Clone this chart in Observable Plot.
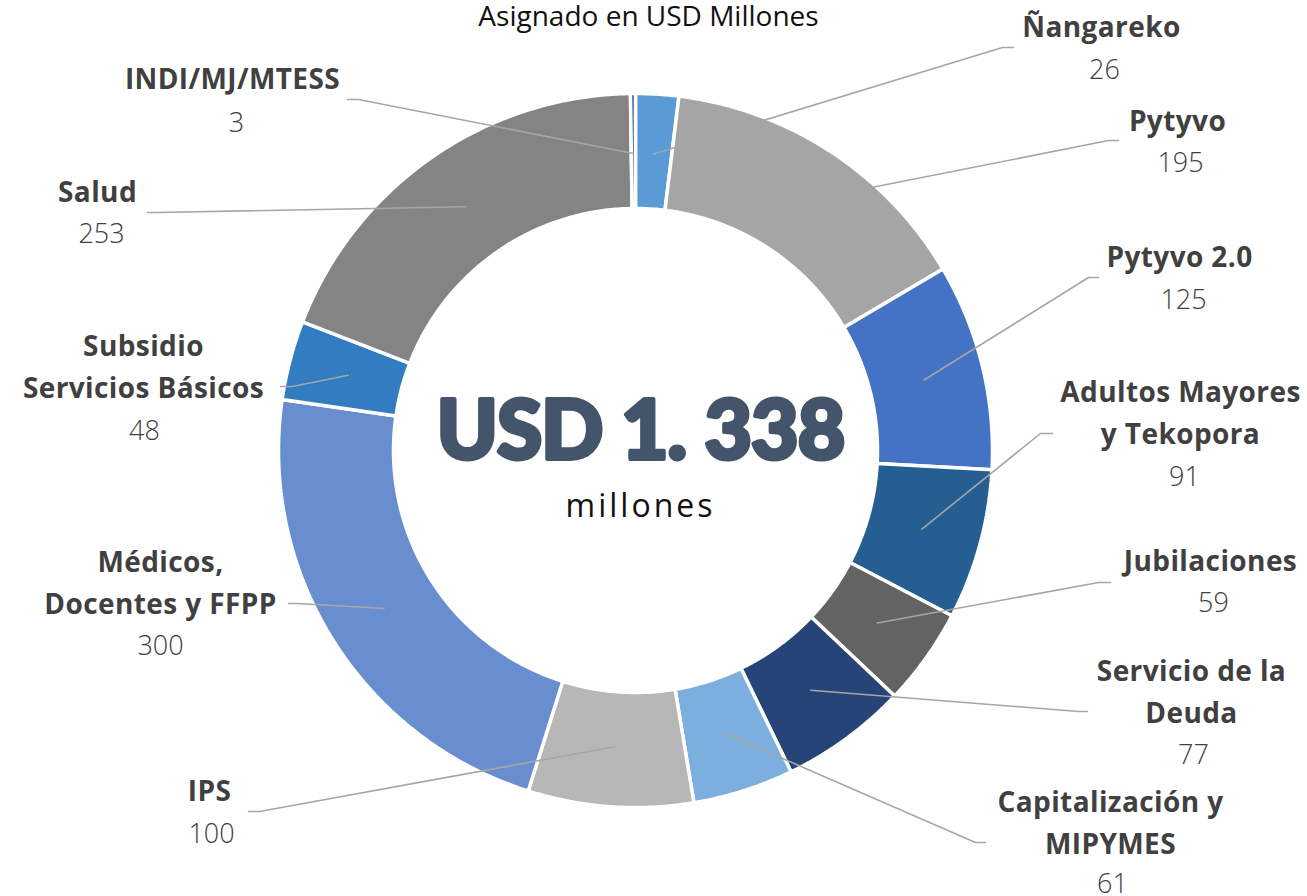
<!DOCTYPE html>
<html>
<head>
<meta charset="utf-8">
<script src="https://cdn.jsdelivr.net/npm/d3@7"></script>
<script src="https://cdn.jsdelivr.net/npm/@observablehq/plot@0.6"></script>
<style>
  body { margin: 0; background: #ffffff; }
  #chart svg { display: block; }
</style>
</head>
<body>
<div id="chart"></div>
<script>
// ---------------- DATA ----------------
const categories = [
  "Ñangareko", "Pytyvo", "Pytyvo 2.0", "Adultos Mayores\ny Tekopora", "Jubilaciones",
  "Servicio de la\nDeuda", "Capitalización y\nMIPYMES", "IPS", "Médicos,\nDocentes y FFPP",
  "Subsidio\nServicios Básicos", "Salud", "INDI/MJ/MTESS"
];
const values = [26, 195, 125, 91, 59, 77, 61, 100, 300, 48, 253, 3];
const sliceColors = [
  "#5B9BD5", "#A5A5A5", "#4472C4", "#255E91", "#636363", "#264478",
  "#7CAFDD", "#B7B7B7", "#698ED0", "#327DC2", "#848484", "#2F5597"
];
const titleText = "Asignado en USD Millones";
const totalText = "USD 1. 338";
const totalUnitText = "millones";

// ---------------- LAYOUT (page pixels) ----------------
const W = 1307, H = 896;
const CX = 635, CY = 450, R_OUT = 357, R_IN = 242, R_LEADER = 297;
const LINE_GAP = 42;
// label block: x = text centre, y = first name line centre, vx/vy = value centre,
// ex/ey = leader elbow, hx = leader end next to text
const labelLayout = [
  { x: 1101, y: 28,  vx: 1104, vy: 70,  ex: 1002, ey: 47,  hx: 1013 },
  { x: 1177, y: 122, vx: 1180, vy: 163, ex: 1108, ey: 140, hx: 1118 },
  { x: 1179, y: 258, vx: 1183, vy: 300, ex: 1088, ey: 277, hx: 1098 },
  { x: 1180, y: 393, vx: 1184, vy: 477, ex: 1040, ey: 433, hx: 1052 },
  { x: 1210, y: 562, vx: 1213, vy: 603, ex: 1098, ey: 582, hx: 1110 },
  { x: 1191, y: 672, vx: 1193, vy: 755, ex: 1078, ey: 711, hx: 1087 },
  { x: 1110, y: 803, vx: 1112, vy: 884, ex: 975,  ey: 842, hx: 985 },
  { x: 209,  y: 792, vx: 211,  vy: 834, ex: 259,  ey: 811, hx: 248 },
  { x: 160,  y: 563, vx: 160,  vy: 646, ex: 297,  ey: 603, hx: 288 },
  { x: 143,  y: 347, vx: 144,  vy: 431, ex: 292,  ey: 386, hx: 280 },
  { x: 97,   y: 193, vx: 101,  vy: 234, ex: 157,  ey: 212, hx: 147 },
  { x: 232,  y: 80,  vx: 236,  vy: 123, ex: 358,  ey: 99,  hx: 347 }
];

// ---------------- DERIVED GEOMETRY ----------------
const arcs = d3.pie().sort(null).value(d => d)(values);
const polar = (r, a) => ({ x: CX + r * Math.sin(a), y: CY - r * Math.cos(a) });

const slicePts = [];
arcs.forEach((arc, i) => {
  const name = categories[i];
  const n = Math.max(4, Math.ceil((arc.endAngle - arc.startAngle) / 0.01));
  const ring = [];
  for (let k = 0; k <= n; k++) ring.push(polar(R_OUT, arc.startAngle + (arc.endAngle - arc.startAngle) * k / n));
  for (let k = n; k >= 0; k--) ring.push(polar(R_IN, arc.startAngle + (arc.endAngle - arc.startAngle) * k / n));
  ring.push(ring[0]);
  ring.forEach(p => slicePts.push({ ...p, name }));
});

const leaderPts = [];
arcs.forEach((arc, i) => {
  const name = categories[i];
  const L = labelLayout[i];
  const mid = (arc.startAngle + arc.endAngle) / 2;
  leaderPts.push({ ...polar(R_LEADER, mid), name });
  leaderPts.push({ x: L.ex, y: L.ey, name });
  leaderPts.push({ x: L.hx, y: L.ey, name });
});

const nameLines = [];
categories.forEach((c, i) => {
  c.split("\n").forEach((t, j) => nameLines.push({ x: labelLayout[i].x, y: labelLayout[i].y + j * LINE_GAP, text: t }));
});
const valueLabels = values.map((v, i) => ({ x: labelLayout[i].vx, y: labelLayout[i].vy, text: String(v) }));

// ---------------- PLOT ----------------
const chart = Plot.plot({
  width: W,
  height: H,
  margin: 0,
  x: { domain: [0, W], range: [0, W], axis: null },
  y: { domain: [0, H], range: [0, H], axis: null },
  color: { domain: categories, range: sliceColors },
  style: { background: "#ffffff" },
  marks: [
    Plot.line(slicePts, { x: "x", y: "y", z: "name", fill: "name", stroke: "#ffffff", strokeWidth: 3.5, strokeLinejoin: "miter" }),
    Plot.line(leaderPts, { x: "x", y: "y", z: "name", stroke: "#A6A6A6", strokeWidth: 1.6 }),
    Plot.text(nameLines, { x: "x", y: "y", text: "text", fontFamily: "Open Sans", fontWeight: 700, fontSize: 28, fill: "#404040" }),
    Plot.text(valueLabels, { x: "x", y: "y", text: "text", fontFamily: "Open Sans", fontWeight: 300, fontSize: 27, fill: "#404040" }),
    Plot.text([titleText], { x: () => 648, y: () => 17, text: d => d, fontFamily: "Open Sans", fontWeight: 400, fontSize: 28, fill: "#111111" }),
    Plot.text([totalText], { x: () => 640, y: () => 432, text: d => d, fontFamily: "Lato", fontWeight: 900, fontSize: 82, fill: "#44546A", stroke: "#44546A", strokeWidth: 4 }),
    Plot.text([totalUnitText], { x: () => 640, y: () => 506, text: d => d, fontFamily: "Open Sans", fontWeight: 400, fontSize: 32, fill: "#111111" })
  ]
});

d3.select(chart).selectAll("text")
  .filter(function () { return this.textContent === totalText; })
  .attr("letter-spacing", "-1px");
d3.select(chart).selectAll("text")
  .filter(function () { return this.textContent === totalUnitText; })
  .attr("letter-spacing", "3px");
d3.select(chart).selectAll("text")
  .filter(function () { return categories.some(c => c.split("\n").includes(this.textContent)); })
  .attr("letter-spacing", "0.4px");

document.getElementById("chart").appendChild(chart);
</script>
</body>
</html>
